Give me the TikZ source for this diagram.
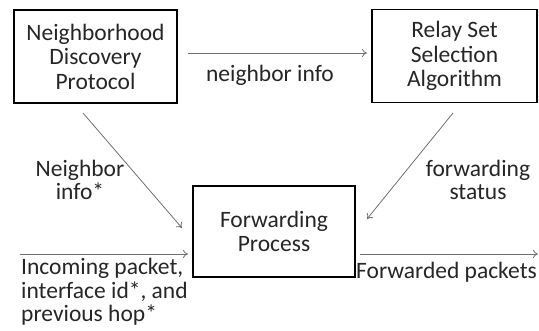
\documentclass[tikz,border=0pt]{standalone}
\usepackage{fontspec}
\setmainfont{Carlito}
\usetikzlibrary{arrows.meta}
\definecolor{txt}{HTML}{262626}
\definecolor{arr}{HTML}{707070}
\begin{document}
\begin{tikzpicture}[x=1pt,y=-1pt,
  box/.style={draw=black,line width=1.6pt,text=txt,align=center,inner sep=0pt,
    font=\fontsize{23.5pt}{24.5pt}\selectfont},
  lbl/.style={text=txt,inner sep=0pt,font=\fontsize{23.5pt}{23.5pt}\selectfont},
  con/.style={draw=arr,line width=0.8pt,-{To[length=5pt,width=8pt]}}]
\useasboundingbox (0,0) rectangle (539,331);
\node[box,minimum width=163pt,minimum height=93pt] (ndp) at (95.5,56.5) {Neighborhood\\Discovery\\Protocol};
\node[box,minimum width=165pt,minimum height=93pt] (rss) at (454.5,56) {Relay Set\\Selection\\Algorithm};
\node[box,minimum width=162pt,minimum height=91pt] (fp) at (274,231.5) {Forwarding\\Process};
\coordinate (a1) at (188,53);
\coordinate (a2) at (367,53);
\coordinate (b1) at (83,113);
\coordinate (b2) at (182,228);
\coordinate (c1) at (453,113);
\coordinate (c2) at (367,219);
\coordinate (d1) at (20,254);
\coordinate (d2) at (188,254);
\coordinate (e1) at (360,254);
\coordinate (e2) at (538,254);
\draw[con] (a1) -- (a2);
\draw[con] (b1) -- (b2);
\draw[con] (c1) -- (c2);
\draw[con] (d1) -- (d2);
\draw[con] (e1) -- (e2);
\node[lbl] (l1) at (270,75) {neighbor info};
\node[lbl,align=center] (l2) at (80,180) {Neighbor\\info*};
\node[lbl,align=center] (l3) at (478,180) {forwarding\\status};
\node[lbl,align=left,anchor=north west] (l4) at (21,258) {Incoming packet,\\interface id*, and\\previous hop*};
\node[lbl,anchor=north east] (l5) at (537,262) {Forwarded packets};
\end{tikzpicture}
\end{document}
